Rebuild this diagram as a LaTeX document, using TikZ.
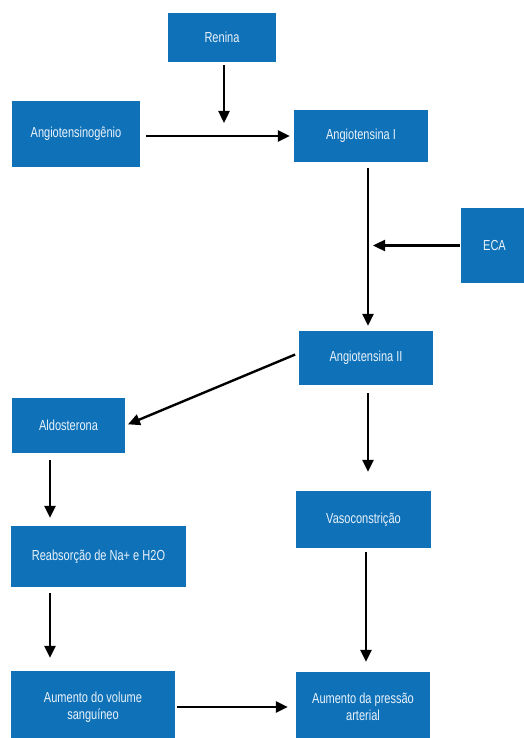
\documentclass[tikz,border=0pt]{standalone}
\usepackage{fontspec}
\setmainfont{Liberation Sans}[FakeStretch=0.76]
\usetikzlibrary{arrows.meta,positioning}
\definecolor{boxblue}{HTML}{0F72B9}
\definecolor{boxtext}{HTML}{EAF2FA}
\tikzset{
  raabox/.style={fill=boxblue, text=boxtext, align=center, inner sep=2pt,
    font=\fontsize{14.5}{17.5}\selectfont},
  arr/.style={-{Triangle[length=12pt,width=11pt]}, line width=2.4pt, draw=black}
}
\begin{document}
\begin{tikzpicture}[x=1pt,y=-1pt]
  \useasboundingbox (0,0) rectangle (524,738);
  % caixas
  \node[raabox, minimum width=108pt, minimum height=49pt] (renina) at (222,37.5) {Renina};
  \node[raabox, minimum width=128pt, minimum height=66pt] (angnog) at (76,134) {Angiotensinogênio};
  \node[raabox, minimum width=134pt, minimum height=52pt] (angI) at (361,136) {Angiotensina I};
  \node[raabox, minimum width=67pt, minimum height=75pt] (eca) at (494.5,245.5) {ECA};
  \node[raabox, minimum width=134pt, minimum height=54pt] (angII) at (366,358) {Angiotensina II};
  \node[raabox, minimum width=113pt, minimum height=55pt] (aldo) at (68.5,425.5) {Aldosterona};
  \node[raabox, minimum width=135pt, minimum height=57pt] (vaso) at (363.5,519.5) {Vasoconstrição};
  \node[raabox, minimum width=175pt, minimum height=61pt] (reab) at (98.5,556.5) {Reabsorção de Na+ e H2O};
  \node[raabox, minimum width=164pt, minimum height=72pt] (volume) at (93,707) {Aumento do volume\\sanguíneo};
  \node[raabox, minimum width=134pt, minimum height=70pt] (pressao) at (363,707) {Aumento da pressão\\arterial};
  % pontos livres
  \coordinate (reninaend) at (224,123);
  \coordinate (ecaend) at (373,245.5);
  \coordinate (eixo) at (368,0);
  \coordinate (eixoesq) at (50,0);
  \coordinate (eixovaso) at (366,0);
  % setas
  \draw[arr] (renina.south -| reninaend) ++(0,3) -- (reninaend);
  \draw[arr, shorten <=6pt, shorten >=4pt] (angnog.east |- angI) -- (angI.west);
  \draw[arr, shorten <=6pt, shorten >=5pt] (angI.south -| eixo) -- (angII.north -| eixo);
  \draw[arr, shorten <=1pt] (eca.west) -- (ecaend);
  \draw[arr, shorten <=4pt, shorten >=3pt] ([yshift=5pt]angII.west) -- (aldo.east);
  \draw[arr, shorten <=8pt, shorten >=19pt] (angII.south -| eixo) -- (vaso.north -| eixo);
  \draw[arr, shorten <=4pt, shorten >=10pt] (vaso.south -| eixovaso) -- (pressao.north -| eixovaso);
  \draw[arr, shorten <=7pt, shorten >=8pt] (aldo.south -| eixoesq) -- (reab.north -| eixoesq);
  \draw[arr, shorten <=6pt, shorten >=13pt] (reab.south -| eixoesq) -- (volume.north -| eixoesq);
  \draw[arr, shorten <=2pt, shorten >=8pt] (volume.east) -- (pressao.west);
\end{tikzpicture}
\end{document}
